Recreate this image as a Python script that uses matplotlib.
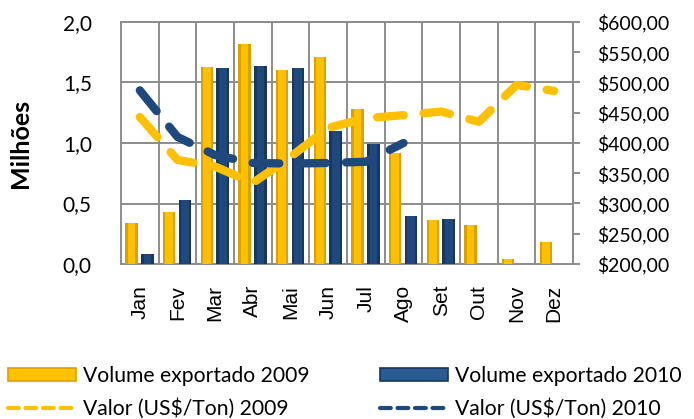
import numpy as np
import matplotlib
matplotlib.use("Agg")
import matplotlib.pyplot as plt
from matplotlib.lines import Line2D
from matplotlib.patches import Patch
from matplotlib.ticker import FuncFormatter, MultipleLocator

# =============== Data ===============
meses = ["Jan", "Fev", "Mar", "Abr", "Mai", "Jun", "Jul", "Ago", "Set", "Out", "Nov", "Dez"]

# Volume exportado (milhões)
vol_2009 = [0.34, 0.43, 1.63, 1.82, 1.60, 1.71, 1.28, 0.92, 0.36, 0.32, 0.04, 0.18]
vol_2010 = [0.08, 0.53, 1.62, 1.64, 1.62, 1.10, 0.99, 0.40, 0.37, None, None, None]

# Valor (US$/Ton)
valor_2009 = [443, 372, 361, 334, 377, 425, 441, 446, 452, 435, 496, 486]
valor_2010 = [487, 410, 380, 367, 366, 367, 369, 400]

# =============== Style ===============
YELLOW = "#FFC000"
YELLOW_DARK = "#D9A100"
BLUE = "#1F497D"
BLUE_DARK = "#17375E"
BLUE_LIGHT = "#2A5A92"
GRID = "#8C8C8C"

plt.rcParams["font.family"] = ["Lato", "DejaVu Sans"]
plt.rcParams["font.size"] = 15

fig = plt.figure(figsize=(6.94, 4.19), dpi=100)
# plot area: x 121..573 px, y 22..264 px
ax = fig.add_axes([121 / 694, 1 - 264 / 419, 452 / 694, 242 / 419])
ax2 = ax.twinx()

x = np.arange(len(meses))
bw = 0.33

v09 = np.array(vol_2009, dtype=float)
v10 = np.array([np.nan if v is None else v for v in vol_2010], dtype=float)

# bars: darker outer body + brighter core to hint at the bevelled look
ax.bar(x - 0.22, v09, width=bw, color=YELLOW_DARK, edgecolor="none", zorder=3)
ax.bar(x - 0.22, v09, width=bw * 0.62, color=YELLOW, edgecolor="none", zorder=3)
ax.bar(x + 0.20, v10, width=bw, color=BLUE_DARK, edgecolor="none", zorder=3)
ax.bar(x + 0.20, v10, width=bw * 0.62, color=BLUE, edgecolor="none", zorder=3)

ax.set_xlim(-0.5, len(meses) - 0.5)
ax.set_ylim(0, 2.0)
ax.yaxis.set_major_locator(MultipleLocator(0.5))
ax.yaxis.set_major_formatter(FuncFormatter(lambda v, p: f"{v:.1f}".replace(".", ",")))

# grid: horizontal at major ticks, vertical at category boundaries
for yv in np.arange(0.5, 2.01, 0.5):
    ax.axhline(yv, color=GRID, lw=1.4, zorder=1)
for xv in np.arange(0.5, len(meses) - 0.5, 1):
    ax.axvline(xv, color=GRID, lw=1.4, zorder=1)
for s in ax.spines.values():
    s.set_color(GRID)
    s.set_linewidth(1.4)

ax.set_xticks(x)
ax.set_xticklabels(meses, rotation=90, family=["Liberation Sans", "DejaVu Sans"], fontsize=15)
ax.tick_params(axis="x", length=0, pad=15)
ax.tick_params(axis="y", length=0, pad=21)
ax.set_ylabel("Milhões", fontweight="bold", fontsize=18, labelpad=22)

# value lines on the right axis
ax2.plot(x, valor_2009, color=YELLOW, lw=6, dashes=(3.2, 2.4),
         dash_capstyle="round", solid_capstyle="round", zorder=5)
ax2.plot(x[:len(valor_2010)], valor_2010, color=BLUE, lw=6, dashes=(3.2, 2.4),
         dash_capstyle="round", solid_capstyle="round", zorder=5)
ax2.set_ylim(200, 600)
ax2.yaxis.set_major_locator(MultipleLocator(50))
ax2.yaxis.set_major_formatter(FuncFormatter(lambda v, p: f"${v:.2f}".replace(".", ",")))
ax2.tick_params(axis="y", length=5, width=1.4, color=GRID, labelsize=14, pad=12)
for name, s in ax2.spines.items():
    s.set_visible(name == "right")
ax2.spines["right"].set_color(GRID)
ax2.spines["right"].set_linewidth(1.4)

# =============== Legend (two columns placed separately) ===============
col1 = [
    Patch(facecolor=YELLOW, edgecolor=YELLOW_DARK, linewidth=1.2, label="Volume exportado 2009"),
    Line2D([], [], color=YELLOW, lw=3, dashes=(2.6, 1.6), dash_capstyle="round",
           label="Valor (US$/Ton) 2009"),
]
col2 = [
    Patch(facecolor=BLUE_LIGHT, edgecolor=BLUE_DARK, linewidth=1.2, label="Volume exportado 2010"),
    Line2D([], [], color=BLUE, lw=3, dashes=(2.6, 1.6), dash_capstyle="round",
           label="Valor (US$/Ton) 2010"),
]
leg_kw = dict(loc="upper left", ncol=1, frameon=False, handlelength=3.2, handleheight=0.6,
              handletextpad=0.35, labelspacing=0.6, borderaxespad=0, borderpad=0, fontsize=15.2)
fig.legend(handles=col1, bbox_to_anchor=(8 / 694, 1 - 366 / 419), **leg_kw)
fig.legend(handles=col2, bbox_to_anchor=(380 / 694, 1 - 366 / 419), **leg_kw)

fig.savefig("out.png", dpi=100)
